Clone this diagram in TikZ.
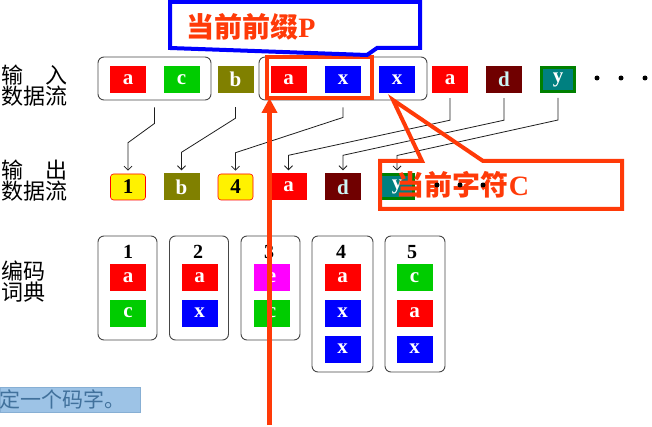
\documentclass[tikz,border=0pt]{standalone}
\usepackage{fontspec}
\setmainfont{Liberation Serif}
\newfontfamily\cjk{Noto Sans CJK SC}
\usetikzlibrary{arrows.meta,calc}
\definecolor{hot}{RGB}{255,58,8}
\definecolor{olivebox}{RGB}{128,128,0}
\definecolor{maroonbox}{RGB}{112,0,0}
\definecolor{tealbox}{RGB}{0,128,128}
\definecolor{greenedge}{RGB}{0,128,0}
\definecolor{greenbox}{RGB}{0,204,0}
\definecolor{magbox}{RGB}{255,0,255}
\definecolor{framegray}{RGB}{70,70,70}
\definecolor{conngray}{RGB}{30,30,30}
\definecolor{hl}{RGB}{157,195,230}
\definecolor{hledge}{RGB}{135,175,212}
\definecolor{hltext}{RGB}{65,113,156}
\definecolor{dtext}{RGB}{205,245,245}
\begin{document}
\begin{tikzpicture}[x=1pt,y=-1pt,
  cell/.style={rectangle, minimum width=36pt, minimum height=27pt, inner sep=0pt,
    text=white, font=\fontsize{21}{21}\selectfont\bfseries},
  ca/.style={cell, fill=red},
  cc/.style={cell, fill=greenbox},
  cb/.style={cell, fill=olivebox},
  cx/.style={cell, fill=blue},
  ce/.style={cell, fill=magbox},
  cd/.style={cell, fill=maroonbox, text=dtext},
  cy/.style={cell, fill=tealbox, draw=greenedge, line width=3pt,
    minimum width=33pt, minimum height=24pt},
  cnum/.style={cell, fill=yellow, draw=red, line width=0.6pt, rounded corners=3pt,
    minimum width=35pt, minimum height=26pt, text=black},
  grp/.style={draw=framegray, line width=0.9pt, rounded corners=6pt, inner sep=0pt},
  num/.style={font=\fontsize{20}{20}\selectfont\bfseries, inner sep=0pt},
  conn/.style={draw=conngray, line width=0.8pt, -{Straight Barb[length=4pt,width=8pt]}},
  lbl/.style={font=\cjk\fontsize{22}{21}\selectfont, align=left, inner sep=0pt, anchor=west},
  dot/.style={circle, fill=black, inner sep=0pt, minimum size=5pt},
  callout/.style={line width=4pt, line join=miter},
  calltext/.style={text=hot, inner sep=0pt, font=\fontsize{28}{28}\selectfont\bfseries},
]
\useasboundingbox (0,0) rectangle (652,427);

% row labels
\node[lbl] (lab1) at (1,86) {输\hspace{1em}入\\数据流};
\node[lbl] (lab2) at (1,181) {输\hspace{1em}出\\数据流};
\node[lbl] (lab3) at (1,282) {编码\\词典};

% input stream with its two grouped phrases
\node[grp, minimum width=113pt, minimum height=43pt] (g1) at (154.5,78.5) {};
\node[grp, minimum width=168pt, minimum height=43pt] (g2) at (343,78.5) {};
\node[ca] (i1) at (128,79.5) {a};
\node[cc] (i2) at (181.5,79.5) {c};
\node[cb] (i3) at (235.5,79.5) {b};
\node[ca] (i4) at (288.5,79.5) {a};
\node[cx] (i5) at (343,79.5) {x};
\node[cx] (i6) at (397,79.5) {x};
\node[ca] (i7) at (450,79.5) {a};
\node[cd] (i8) at (504,79.5) {d};
\node[cy] (i9) at (558,79.5) {y};
\node[dot] (id1) at (597,78) {};
\node[dot] (id2) at (621,78) {};
\node[dot] (id3) at (645,78) {};

% output stream
\node[cnum] (o1) at (128,187) {1};
\node[cb]   (o2) at (181.5,187) {b};
\node[cnum] (o3) at (235.5,187) {4};
\node[ca]   (o4) at (288.5,187) {a};
\node[cd]   (o5) at (343,187) {d};
\node[cy]   (o6) at (397,187) {y};

% elbow connectors from input to output
\draw[conn] ([yshift=-7pt]g1.south) -- ++(0,16) -- ([yshift=31pt]o1.north) -- ([yshift=3pt]o1.north);
\draw[conn] ([yshift=-14pt]i3.south) -- ++(0,11) -- ([yshift=21pt]o2.north) -- ([yshift=3pt]o2.north);
\draw[conn] ([yshift=-7pt]g2.south) -- ++(0,10) -- ([yshift=21pt]o3.north) -- ([yshift=3pt]o3.north);
\draw[conn] ([yshift=-5pt]i7.south) -- ++(0,22) -- ([yshift=18pt]o4.north) -- ([yshift=3pt]o4.north);
\draw[conn] ([yshift=-5pt]i8.south) -- ++(0,22) -- ([yshift=18pt]o5.north) -- ([yshift=3pt]o5.north);
\draw[conn] ([yshift=-5pt]i9.south) -- ++(0,22) -- ([yshift=18pt]o6.north) -- ([yshift=3pt]o6.north);

% coding dictionary
\node[grp, minimum width=59pt, minimum height=104pt] (d1) at (127.5,288) {};
\node[grp, minimum width=59pt, minimum height=104pt] (d2) at (199,288) {};
\node[grp, minimum width=59pt, minimum height=104pt] (d3) at (270.5,288) {};
\node[grp, minimum width=61pt, minimum height=136pt] (d4) at (342.5,304) {};
\node[grp, minimum width=60pt, minimum height=136pt] (d5) at (415,304) {};
\node[num] (n1) at (128,252) {1};
\node[num] (n2) at (198,252) {2};
\node[num] (n3) at (269,252) {3};
\node[num] (n4) at (341,252) {4};
\node[num] (n5) at (412,252) {5};
\node[ca] (k1a) at (128,277.5) {a};
\node[cc] (k1b) at (128,313) {c};
\node[ca] (k2a) at (199.5,277.5) {a};
\node[cx] (k2b) at (199.5,313) {x};
\node[ce] (k3a) at (271.5,277.5) {e};
\node[cc] (k3b) at (271.5,313) {c};
\node[ca] (k4a) at (342.5,277.5) {a};
\node[cx] (k4b) at (342.5,313) {x};
\node[cx] (k4c) at (342.5,349) {x};
\node[cc] (k5a) at (414.5,277.5) {c};
\node[ca] (k5b) at (414.5,313) {a};
\node[cx] (k5c) at (414.5,349) {x};

% highlighted text line
\node[fill=hl, draw=hledge, line width=0.6pt, minimum width=140pt, minimum height=25pt,
  anchor=north west, inner sep=0pt] (hlbox) at (0,387) {};
\node[anchor=west, text=hltext, inner sep=0pt, font=\cjk\fontsize{21}{21}\selectfont]
  (hltxt) at (-1,399.5) {定一个码字。};

% current prefix: frame, callout and pointer
\draw[hot, line width=3.5pt] ([shift={(-3.5,-9)}]i4.north west) rectangle ([shift={(11,5)}]i5.south east);
\draw[callout, blue, fill=white] (170,2) -- (420,2) -- (420,48) -- (377,48) -- (367,55) -- (170,48) -- cycle;
\node[calltext] (tp) at (251,27) {{\cjk 当前前缀}P};

\coordinate (pbot) at (269.5,425);
\coordinate (ptop) at (269.5,98);
\draw[hot, line width=4.5pt, -{Triangle[length=15pt,width=15pt]}] (pbot) -- (ptop);

% current character callout
\draw[callout, hot] (380,161) -- (422,161) -- (393,100) -- (483,161) -- (622,161) -- (622,209) -- (380,209) -- cycle;
\node[calltext] (tc) at (463,185) {{\cjk 当前字符}C};
\node[dot] (od1) at (437,185) {};
\node[dot] (od2) at (460,185) {};
\node[dot] (od3) at (483,185) {};
\end{tikzpicture}
\end{document}
